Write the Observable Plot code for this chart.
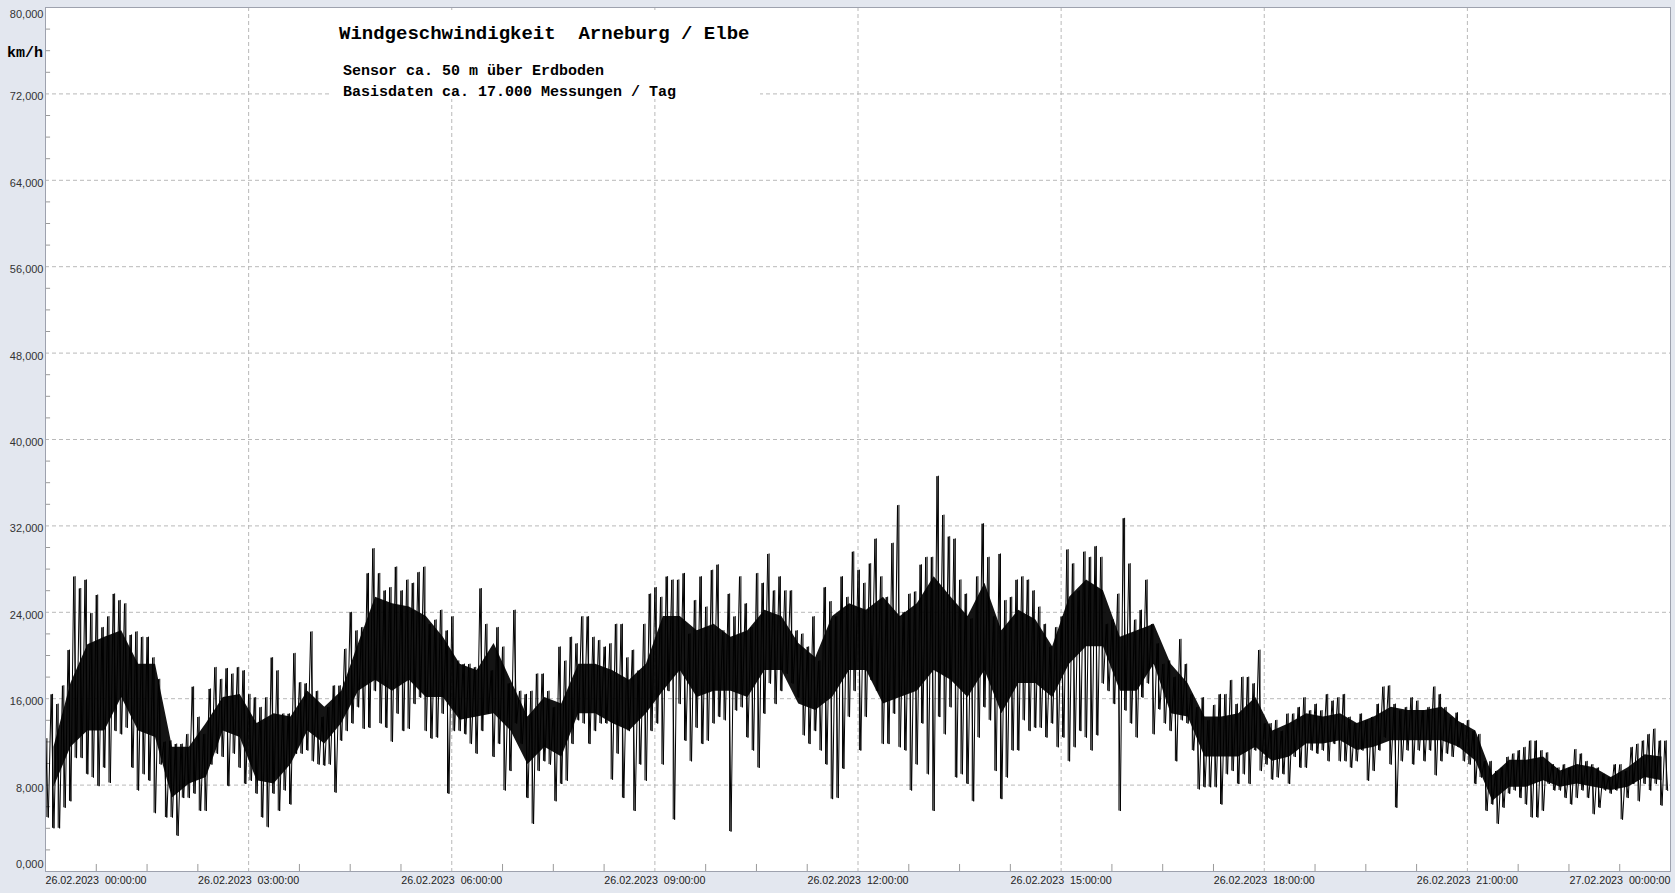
<!DOCTYPE html>
<html><head><meta charset="utf-8">
<script src="https://cdn.jsdelivr.net/npm/d3@7"></script>
<script src="https://cdn.jsdelivr.net/npm/@observablehq/plot@0.6"></script>
<style>
html,body{margin:0;padding:0;background:#e3e7ef;}
#wrap{position:relative;width:1675px;height:893px;overflow:hidden;background:#e3e7ef;}
#wrap svg{position:absolute;left:0;top:0;}
.mono{position:absolute;font-family:"Liberation Mono","Courier New",monospace;font-weight:bold;color:#000;white-space:pre;}
#tbox{position:absolute;left:330px;top:10px;width:430px;height:89px;background:#fff;}
</style>
</head><body>
<div id="wrap">
  <div id="chart"></div>
  <div id="tbox">
    <div class="mono" style="left:9px;top:14px;font-size:19px;line-height:20px;">Windgeschwindigkeit  Arneburg / Elbe</div>
    <div class="mono" style="left:13px;top:54px;font-size:15px;line-height:16px;">Sensor ca. 50 m über Erdboden</div>
    <div class="mono" style="left:13px;top:75px;font-size:15px;line-height:16px;">Basisdaten ca. 17.000 Messungen / Tag</div>
  </div>
  <div class="mono" style="left:7px;top:46px;font-size:15px;line-height:16px;">km/h</div>
</div>
<script>
// Wind speed (km/h): per 5-minute bin, upper and lower envelope (spikes)
const binMinutes = 5;
const hi = [
12.3,16.4,15.5,17.2,20.5,27.3,26.2,27.0,23.9,25.6,22.6,23.6,25.7,25.1,24.8,21.9,22.2,21.7,21.7,19.8,17.8,12.0,12.1,11.8,11.8,12.7,17.1,14.3,12.7,16.9,
18.9,17.8,18.8,18.3,18.9,18.6,16.4,16.1,15.2,16.1,19.8,18.6,14.6,14.6,20.2,17.5,17.4,22.2,16.7,14.3,15.2,17.2,17.2,20.6,24.0,22.3,22.6,27.6,
29.9,27.6,26.0,26.3,28.2,26.0,27.0,26.7,27.7,28.2,22.9,23.3,24.2,22.3,23.6,19.5,19.2,19.2,18.9,26.2,22.9,18.6,22.6,20.8,17.4,24.2,16.7,16.4,16.7,18.3,
18.3,16.7,15.2,20.8,19.5,21.7,21.1,23.6,23.6,21.7,21.4,20.8,21.1,22.9,22.9,19.8,20.5,18.6,22.9,25.7,26.3,25.4,27.3,27.0,27.0,27.6,22.0,
25.1,27.3,24.5,27.9,28.4,22.3,25.7,23.6,27.3,24.8,22.6,27.6,26.7,29.4,26.0,27.3,26.0,26.0,22.3,22.0,20.8,23.6,19.5,26.3,25.0,23.6,27.3,25.4,29.6,27.9,
26.7,28.5,30.8,27.3,25.4,30.4,33.9,24.0,25.7,25.9,28.4,29.1,29.1,36.6,33.0,31.0,30.8,27.0,25.7,23.4,27.3,32.2,29.1,23.6,29.4,25.1,25.4,27.0,
27.3,27.0,26.0,24.5,22.9,20.8,22.6,23.6,29.8,28.5,26.0,29.6,29.1,30.1,29.1,22.9,23.3,25.7,32.7,28.5,23.3,24.2,27.0,22.9,21.1,19.2,19.5,18.0,21.5,19.2,
16.4,15.2,16.1,14.0,15.4,16.4,16.4,17.7,15.5,18.0,18.0,17.4,20.5,13.7,13.7,14.0,13.0,14.6,14.6,15.2,16.1,14.9,15.5,14.9,16.4,15.8,16.1,
16.4,14.3,13.7,14.6,14.0,14.3,15.5,17.1,17.2,15.5,14.9,15.2,16.1,15.8,14.9,15.2,17.1,16.4,15.2,14.3,14.7,13.7,14.0,13.0,12.7,10.2,10.2,9.3,9.6,10.6,
10.9,11.2,11.5,12.1,12.1,11.2,11.0,9.9,9.6,9.9,9.6,11.3,10.9,10.2,9.9,9.6,9.0,8.7,9.9,9.9,9.3,11.5,11.8,12.1,12.7,13.2,12.1,12.1
];
const lo = [
5.0,4.0,4.0,5.9,6.5,10.5,10.5,9.0,8.7,7.9,9.6,8.2,13.0,12.7,13.3,9.6,7.5,9.0,8.4,5.4,9.9,5.0,5.0,3.3,6.8,6.8,7.2,5.6,5.6,9.9,
10.9,10.6,7.9,10.9,9.6,8.1,8.4,7.2,5.0,4.1,7.2,5.6,7.5,6.2,10.9,10.9,11.2,10.2,9.9,9.8,9.9,7.3,12.1,13.0,13.7,15.2,13.2,13.3,
16.7,13.7,13.3,12.0,14.6,13.0,13.2,15.5,16.1,13.0,12.3,12.4,14.6,7.2,13.0,13.0,12.7,11.8,10.9,13.0,14.6,10.6,11.8,7.5,9.3,13.7,11.8,6.8,4.4,9.3,
10.2,9.9,6.5,8.1,8.4,11.8,14.0,13.7,11.8,13.0,13.7,13.7,8.5,10.9,6.8,13.0,5.6,9.9,8.4,13.0,13.7,9.9,16.7,4.8,15.5,12.1,10.2,
13.3,11.8,12.1,13.7,14.3,14.0,3.7,14.9,15.2,12.4,11.2,9.6,14.6,17.4,15.5,16.7,18.3,17.4,16.1,12.6,11.8,13.0,11.2,9.9,6.7,6.8,9.5,14.3,16.7,11.2,
14.3,17.7,16.7,11.8,11.8,14.6,11.5,11.2,7.5,9.9,13.7,9.0,5.6,14.3,12.7,15.2,8.7,9.0,8.1,6.5,12.4,15.2,14.0,9.3,6.7,8.7,11.2,11.2,
14.0,13.0,13.3,13.3,12.4,13.7,11.5,12.4,10.2,11.5,13.0,12.4,11.2,12.6,17.4,16.7,15.5,5.6,14.9,13.7,12.4,16.1,17.4,12.7,15.0,13.7,13.0,10.2,14.0,13.7,
11.2,7.6,7.8,7.8,7.8,6.2,9.0,9.3,8.1,9.0,8.1,11.2,9.3,9.9,8.5,8.7,9.0,8.1,10.6,9.6,9.6,11.2,10.9,11.2,10.2,11.8,10.2,
10.2,9.6,10.2,11.2,8.4,9.3,11.2,12.4,9.9,5.9,10.2,11.2,9.9,11.2,10.2,11.2,8.9,10.2,10.9,10.6,11.5,10.2,9.9,8.1,8.7,5.6,6.2,4.4,5.9,7.2,
7.5,6.8,6.2,5.0,5.0,5.6,8.1,7.5,7.5,6.8,6.2,6.8,7.5,6.8,5.3,5.9,7.5,7.2,7.5,4.8,6.8,8.1,6.5,8.1,7.5,8.1,6.1,7.5
];
// Dense core of the trace (km/h), per 15-minute bin
const coreMinutes = 15;
const coreHi = [
11.5,17.4,21.0,21.7,22.3,19.2,19.2,11.5,11.5,13.7,16.1,16.4,13.7,14.6,14.3,16.7,15.2,16.7,21.1,
25.4,24.8,24.5,23.6,21.7,19.2,18.6,21.1,17.7,14.3,16.1,15.5,19.2,19.2,18.6,17.7,19.2,23.6,23.6,
22.3,22.9,21.7,22.3,24.2,23.6,21.1,19.8,23.6,24.8,24.2,25.4,23.6,24.8,27.3,25.4,23.6,26.7,22.3,
24.2,23.3,20.8,25.4,27.0,26.0,21.7,22.3,22.9,19.2,17.4,14.3,14.3,14.6,16.1,13.0,13.7,14.6,14.3,14.6,
13.7,14.3,15.2,14.9,14.9,15.2,13.9,13.0,8.9,10.3,10.3,10.6,9.3,9.9,9.6,8.7,9.6,10.8,10.6
];
const coreLo = [
7.8,11.5,13.0,13.0,16.1,13.0,12.4,6.8,8.1,8.7,13.0,12.4,8.4,8.1,9.9,13.0,11.8,13.7,16.7,
17.7,16.7,17.7,16.1,16.1,14.0,14.3,14.6,13.0,9.9,11.5,10.6,14.6,14.6,13.7,13.0,14.6,16.7,18.6,
16.1,16.7,16.7,16.1,18.6,18.6,15.5,14.9,16.1,18.6,18.6,15.5,16.1,16.7,18.6,17.7,16.1,18.6,14.6,
17.4,17.4,16.1,19.2,20.8,20.8,16.7,16.7,19.2,14.6,14.3,10.6,10.6,10.6,11.5,10.2,10.6,11.8,11.8,12.1,
11.2,11.5,12.1,12.1,12.1,12.1,11.5,10.2,6.5,7.8,7.8,8.4,7.8,8.1,7.8,7.5,7.8,8.7,8.4
];
// Axis ticks
const yTicks = [0,8,16,24,32,40,48,56,64,72,80];
const yMinor = [2,4,6,10,12,14,18,20,22,26,28,30,34,36,38,42,44,46,50,52,54,58,60,62,66,68,70,74,76,78];
const xTicks = [0,3,6,9,12,15,18,21,24];
const xLabels = ["26.02.2023  00:00:00","26.02.2023  03:00:00","26.02.2023  06:00:00","26.02.2023  09:00:00","26.02.2023  12:00:00","26.02.2023  15:00:00","26.02.2023  18:00:00","26.02.2023  21:00:00","27.02.2023  00:00:00"];
const xMinor = [0.75,1.5,2.25,3.75,4.5,5.25,6.75,7.5,8.25,9.75,10.5,11.25,12.75,13.5,14.25,15.75,16.5,17.25,18.75,19.5,20.25,21.75,22.5,23.25];

const pts = [];
const bins = [];
hi.forEach((h, i) => {
  const t = i * binMinutes / 60;
  pts.push({t, v: h});
  pts.push({t: t + binMinutes / 120, v: lo[i]});
  bins.push({t: t + binMinutes / 240, hi: h, lo: lo[i]});
});
const core = coreHi.map((h, i) => ({t: (i + 0.5) * coreMinutes / 60, hi: h, lo: coreLo[i]}));
const fmtY = d => d.toFixed(3).replace(".", ",");
const xl = xTicks.map((t, i) => ({t, label: xLabels[i].replace(/ /g, "\u00a0")}));
const yl = yTicks.map(v => ({v, label: fmtY(v)}));
const grid = {stroke: "#b9b9b9", strokeDasharray: "4,3", strokeWidth: 1};
const font = "'Liberation Sans', Arial, sans-serif";

const chart = Plot.plot({
  width: 1675, height: 893,
  marginLeft: 45, marginRight: 5, marginTop: 7, marginBottom: 22,
  style: {background: "transparent", overflow: "visible"},
  x: {domain: [0, 24], axis: null},
  y: {domain: [0, 80], axis: null},
  marks: [
    Plot.frame({fill: "white", stroke: null}),
    Plot.ruleY(yTicks.filter(v => v > 0 && v < 80), {...grid}),
    Plot.ruleX(xTicks.filter(t => t > 0 && t < 24), {...grid}),
    Plot.ruleY(yMinor, {x1: 0, x2: 0.075, stroke: "#9a9a9a"}),
    Plot.ruleX(xMinor, {y1: 0, y2: 0.65, stroke: "#9a9a9a"}),
    Plot.areaY(core, {x: "t", y1: "lo", y2: "hi", fill: "#000", fillOpacity: 0.92}),
    Plot.ruleX(bins, {x: "t", y1: "lo", y2: "hi", stroke: "#000", strokeWidth: 1}),
    Plot.line(pts, {x: "t", y: "v", stroke: "#000", strokeWidth: 1}),
    Plot.frame({stroke: "#9ea2ae"}),
    Plot.text(yl.filter(d => d.v > 0 && d.v < 80), {x: 0, y: "v", text: "label", textAnchor: "end", dx: -2, dy: 3, fontSize: 11, fill: "#333", fontFamily: font}),
    Plot.text(yl.filter(d => d.v === 80), {x: 0, y: "v", text: "label", textAnchor: "end", dx: -2, dy: 7, fontSize: 11, fill: "#333", fontFamily: font}),
    Plot.text(yl.filter(d => d.v === 0), {x: 0, y: "v", text: "label", textAnchor: "end", dx: -2, dy: -7, fontSize: 11, fill: "#333", fontFamily: font}),
    Plot.text(xl.filter(d => d.t === 0), {x: "t", y: 0, text: "label", textAnchor: "start", dy: 9, fontSize: 10.7, fill: "#222", fontFamily: font}),
    Plot.text(xl.filter(d => d.t > 0 && d.t < 24), {x: "t", y: 0, text: "label", textAnchor: "middle", dy: 9, fontSize: 10.7, fill: "#222", fontFamily: font}),
    Plot.text(xl.filter(d => d.t === 24), {x: "t", y: 0, text: "label", textAnchor: "end", dy: 9, fontSize: 10.7, fill: "#222", fontFamily: font})
  ]
});
document.getElementById("chart").appendChild(chart);
</script>
</body></html>
